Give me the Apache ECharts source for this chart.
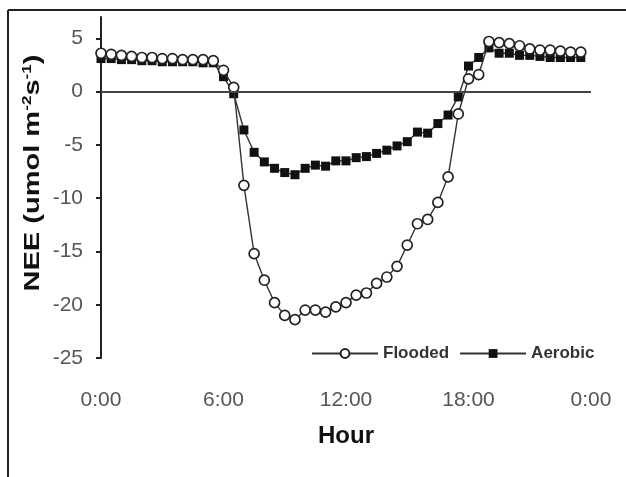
<!DOCTYPE html>
<html>
<head>
<meta charset="utf-8">
<script src="https://cdn.jsdelivr.net/npm/echarts@6/dist/echarts.min.js"></script>
<style>
    html, body { margin: 0; padding: 0; background: #fff; }
    #chart { width: 626px; height: 477px; }
</style>
</head>
<body>
<div id="chart"></div>
<script>
// half-hourly values, 0:00 .. 23:30
let hours = [];
for (let i = 0; i < 48; i++) hours.push(i / 2);

let flooded = [
    3.6, 3.5, 3.4, 3.3, 3.2, 3.2, 3.1, 3.1, 3.0, 3.0, 3.0, 2.9,
    2.0, 0.4, -8.8, -15.2, -17.7, -19.8, -21.0, -21.4, -20.5, -20.5, -20.7, -20.2,
    -19.8, -19.1, -18.9, -18.0, -17.4, -16.4, -14.4, -12.4, -12.0, -10.4, -8.0, -2.1,
    1.2, 1.6, 4.7, 4.6, 4.5, 4.3, 4.0, 3.9, 3.9, 3.8, 3.7, 3.7
];
let aerobic = [
    3.1, 3.1, 3.0, 3.0, 2.9, 2.9, 2.8, 2.8, 2.8, 2.8, 2.7, 2.7,
    1.4, -0.2, -3.6, -5.7, -6.6, -7.2, -7.6, -7.8, -7.2, -6.9, -7.0, -6.5,
    -6.5, -6.2, -6.1, -5.8, -5.5, -5.1, -4.7, -3.8, -3.9, -3.0, -2.2, -0.5,
    2.4, 3.2, 4.1, 3.6, 3.6, 3.4, 3.4, 3.3, 3.2, 3.2, 3.2, 3.2
];
let yTicks = [-25, -20, -15, -10, -5, 0, 5];

let font = 'Liberation Sans, Arial, sans-serif';

function pairs(values)
{
    let array = [];
    let i = 0;
    values.forEach(v => {
        array.push([hours[i], v]);
        i++;
    });
    return array;
}

var myChart = echarts.init(document.getElementById('chart'));

let option = {
    animation: false,
    textStyle: { fontFamily: font },
    grid: { left: 101, right: 35, top: 17, bottom: 119 },
    xAxis: {
        type: 'value',
        min: 0,
        max: 24,
        interval: 6,
        axisLine: { show: false, onZero: false },
        axisTick: { show: false },
        splitLine: { show: false },
        axisLabel: {
            margin: 32,
            fontSize: 21,
            color: '#555',
            fontFamily: font,
            formatter: v => (v % 24) + ':00'
        },
        name: 'Hour',
        nameLocation: 'middle',
        nameGap: 66,
        nameTextStyle: { fontSize: 24, fontWeight: 'bold', color: '#111', fontFamily: font }
    },
    yAxis: {
        type: 'value',
        min: -25,
        max: 7,
        splitLine: { show: false },
        axisLine: { show: true, lineStyle: { color: '#222', width: 2 } },
        axisTick: { show: true, length: 5, customValues: yTicks, lineStyle: { color: '#222', width: 2 } },
        axisLabel: {
            customValues: yTicks,
            margin: 18,
            fontSize: 21,
            color: '#555',
            fontFamily: font
        }
    },
    legend: {
        left: 306,
        top: 340,
        itemWidth: 66,
        itemHeight: 11,
        itemGap: 10,
        textStyle: { fontSize: 17, fontWeight: 'bold', color: '#333', fontFamily: font },
        data: ['Flooded', 'Aerobic']
    },
    series: [
        {
            name: 'Flooded',
            type: 'line',
            data: pairs(flooded),
            symbol: 'circle',
            symbolSize: 10,
            z: 3,
            itemStyle: { color: '#fff', borderColor: '#222', borderWidth: 1.7 },
            lineStyle: { color: '#333', width: 1.4 },
            markLine: {
                silent: true,
                symbol: 'none',
                label: { show: false },
                lineStyle: { color: '#444', width: 2, type: 'solid' },
                data: [{ yAxis: 0 }]
            }
        },
        {
            name: 'Aerobic',
            type: 'line',
            data: pairs(aerobic),
            symbol: 'rect',
            symbolSize: 9,
            z: 2,
            itemStyle: { color: '#111' },
            lineStyle: { color: '#333', width: 1.4 }
        }
    ],
    graphic: [
        {
            type: 'line',
            shape: { x1: 8, y1: 10, x2: 626, y2: 10 },
            style: { stroke: '#222', lineWidth: 2 }
        },
        {
            type: 'line',
            shape: { x1: 8, y1: 10, x2: 8, y2: 477 },
            style: { stroke: '#222', lineWidth: 2 }
        },
        {
            // y axis title, stretched along its length like the source image
            type: 'text',
            x: 33,
            y: 173,
            rotation: Math.PI / 2,
            scaleX: 1.32,
            style: {
                text: 'NEE (umol m{sup|-2}s{sup|-1})',
                font: 'bold 22px ' + font,
                fill: '#111',
                align: 'center',
                verticalAlign: 'middle',
                rich: {
                    sup: { fontSize: 13, fontWeight: 'bold', fill: '#111', padding: [0, 0, 12, 0] }
                }
            }
        }
    ]
};

myChart.setOption(option);
</script>
</body>
</html>
